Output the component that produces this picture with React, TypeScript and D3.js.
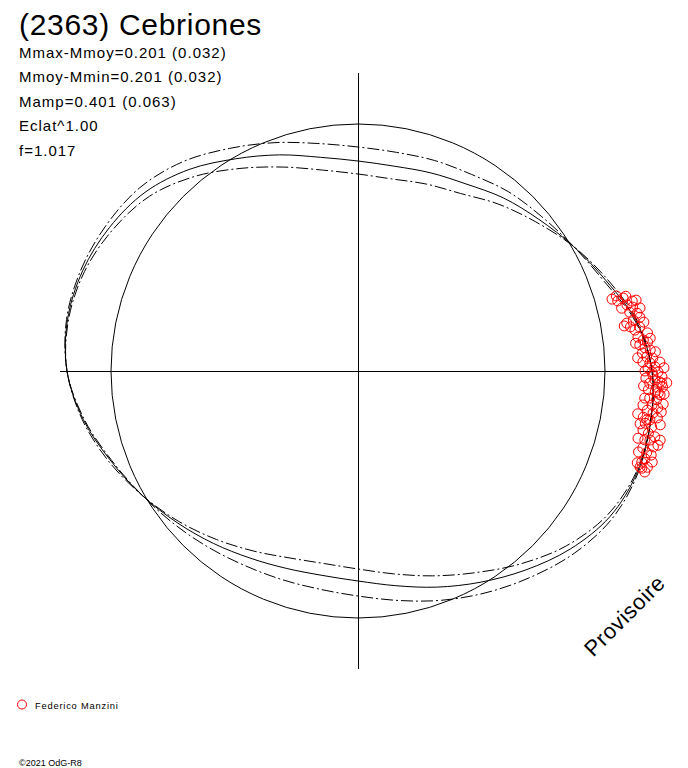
import React from "react";
import * as d3 from "d3";

const W = 688;
const H = 768;
const CX = 358;
const CY = 371;

const title = "(2363) Cebriones";
const infoLines = [
  "Mmax-Mmoy=0.201 (0.032)",
  "Mmoy-Mmin=0.201 (0.032)",
  "Mamp=0.401 (0.063)",
  "Eclat^1.00",
  "f=1.017",
];
const observer = "Federico Manzini";
const credit = "©2021 OdG-R8";
const watermark = "Provisoire";

// polar geometry (units: chart radius units)
const axisExtent = 298;
const refCircle = 247;

// rotation phase in degrees (counter-clockwise from +x)
const phaseDeg = [
  0, 10, 20, 30, 40, 50, 60, 70, 80, 90, 100, 110, 120, 130, 140, 150, 160, 170,
  180, 190, 200, 210, 220, 230, 240, 250, 260, 270, 280, 290, 300, 310, 320, 330, 340, 350,
];
// mean fitted curve
const meanCurve = [
  294, 283, 264, 249, 236, 226, 216, 211, 208, 210, 217, 230, 245, 263, 278, 287, 293, 295,
  291, 279, 263, 249, 236, 225, 216, 210, 207.5, 210, 218, 230, 244, 260, 277, 291, 297, 297,
];
// envelope curve A
const curveA = [
  294, 282, 262, 249, 240, 234, 227, 224, 222, 224, 231, 243, 257, 273, 285, 291, 295, 296,
  291, 280, 265, 249, 234, 220, 208, 199, 195.5, 198, 206, 218, 233, 252, 272, 288, 296, 297,
];
// envelope curve B
const curveB = [
  294, 284, 266, 249, 232, 218, 205, 199, 195, 197, 204, 217, 234, 254, 272, 283, 291, 294,
  291, 278, 262, 249, 239, 231, 225, 222, 221.5, 225, 233, 244, 256, 269, 283, 294, 298, 297,
];

// observations: phase (deg) and radius
const obsPhase = [
  15.8, 15.1, 15.4, 14.3, 13.8, 13.1, 12.2, 11.7, 10.8, 10.1, 9.2, 8.4, 8.9, 7.5, 6.9, 6.2,
  5.7, 5.3, 4.6, 4.1, 3.6, 2.8, 2.5, 1.8, 1.6, 0.8, 0.6, -0.2, -0.2, -0.8, -1.1, -1.7, -2.1,
  -2.4, -3.1, -3.0, -3.7, -4.0, -4.5, -5.3, -5.5, -6.6, -7.0, -7.7, -8.1, -9.2, -9.5, -8.9,
  -10.3, -10.8, -11.7, -12.1, -12.5, -13.5, -14.4, -13.9, -15.1, -15.8, -17.8, -18.4, -18.8,
  -19.4, -9.6, -18.9, -2.3, -4.2,
  16.2, 15.6, 14.3, 13.4, 12.6, 10.5, 9.7, 9.6, 6.4, 5.7, 3.7, 2.7, 1.7, 0.0, 0.6, -1.4,
  -2.2, -3.0, -4.3, -5.4, -6.2, -6.8, -7.7, -8.7, -10.1, -10.6, -13.5, -13.3, -12.9, -16.0,
  -16.1, -18.2, -17.2, -17.0,
];
const obsR = [
  264, 269, 275, 283, 277, 282, 278, 285, 287, 273, 276, 280, 285, 292, 282, 287,
  291, 283, 288, 293, 285, 289, 295, 285, 292, 297, 290, 294, 300, 295, 304, 297, 302,
  292, 299, 305, 291, 298, 303, 293, 300, 296, 302, 292, 298, 289, 296, 303,
  292, 299, 291, 297, 304, 295, 305, 309, 295, 300, 298, 305, 298,
  304, 293, 300, 304, 301,
  269, 278, 287, 271, 289, 280, 290, 270, 294, 279, 298, 280, 302, 287, 306, 288,
  309, 286, 307, 288, 307, 287, 306, 283, 307, 287, 288, 300, 310, 305,
  292, 294, 308, 300,
];

const rScale = d3.scaleLinear().domain([0, 300]).range([0, 300]);
const toAngle = (deg: number) => ((90 - deg) * Math.PI) / 180;

const radialLine = d3
  .lineRadial<number>()
  .angle((_d, i) => toAngle(phaseDeg[i]))
  .radius((d) => rScale(d))
  .curve(d3.curveCatmullRomClosed.alpha(0.5));

const font = "'Liberation Sans', Arial, sans-serif";

export default function App() {
  const ax = rScale(axisExtent);
  const pts = obsPhase.map((p, i) => d3.pointRadial(toAngle(p), rScale(obsR[i])));
  const dash = "12,3,2,3";
  return (
    <svg
      width={W}
      height={H}
      viewBox={`0 0 ${W} ${H}`}
      style={{ position: "absolute", left: 0, top: 0, background: "#fff" }}
    >
      <rect x={0} y={0} width={W} height={H} fill="#fff" />
      <text x={19} y={35} fontFamily={font} fontSize={30} letterSpacing={0.7} fill="#000">
        {title}
      </text>
      {infoLines.map((t, i) => (
        <text
          key={i}
          x={19}
          y={57.5 + i * 24.5}
          fontFamily={font}
          fontSize={15}
          letterSpacing={1}
          fill="#000"
        >
          {t}
        </text>
      ))}
      <g transform={`translate(${CX},${CY})`}>
        <line x1={-ax} x2={ax} y1={0.5} y2={0.5} stroke="#000" strokeWidth={1} shapeRendering="crispEdges" />
        <line x1={0.5} x2={0.5} y1={-ax} y2={ax} stroke="#000" strokeWidth={1} shapeRendering="crispEdges" />
        <circle r={rScale(refCircle)} fill="none" stroke="#000" strokeWidth={1} />
        <path d={radialLine(curveA) || ""} fill="none" stroke="#000" strokeWidth={1} strokeDasharray={dash} />
        <path d={radialLine(curveB) || ""} fill="none" stroke="#000" strokeWidth={1} strokeDasharray={dash} />
        <path d={radialLine(meanCurve) || ""} fill="none" stroke="#000" strokeWidth={1} />
        {pts.map((p, i) => (
          <circle key={i} cx={p[0]} cy={p[1]} r={5} fill="none" stroke="#ff0000" strokeWidth={1} />
        ))}
      </g>
      <text
        transform="translate(630,621) rotate(-45)"
        textAnchor="middle"
        fontFamily={font}
        fontSize={22}
        letterSpacing={0.6}
        fill="#000"
      >
        {watermark}
      </text>
      <circle cx={22} cy={704.5} r={4.5} fill="none" stroke="#ff0000" strokeWidth={1} />
      <text x={35} y={709} fontFamily={font} fontSize={9.3} letterSpacing={0.8} fill="#000">
        {observer}
      </text>
      <text x={19} y={766} fontFamily={font} fontSize={9} fill="#000">
        {credit}
      </text>
    </svg>
  );
}
